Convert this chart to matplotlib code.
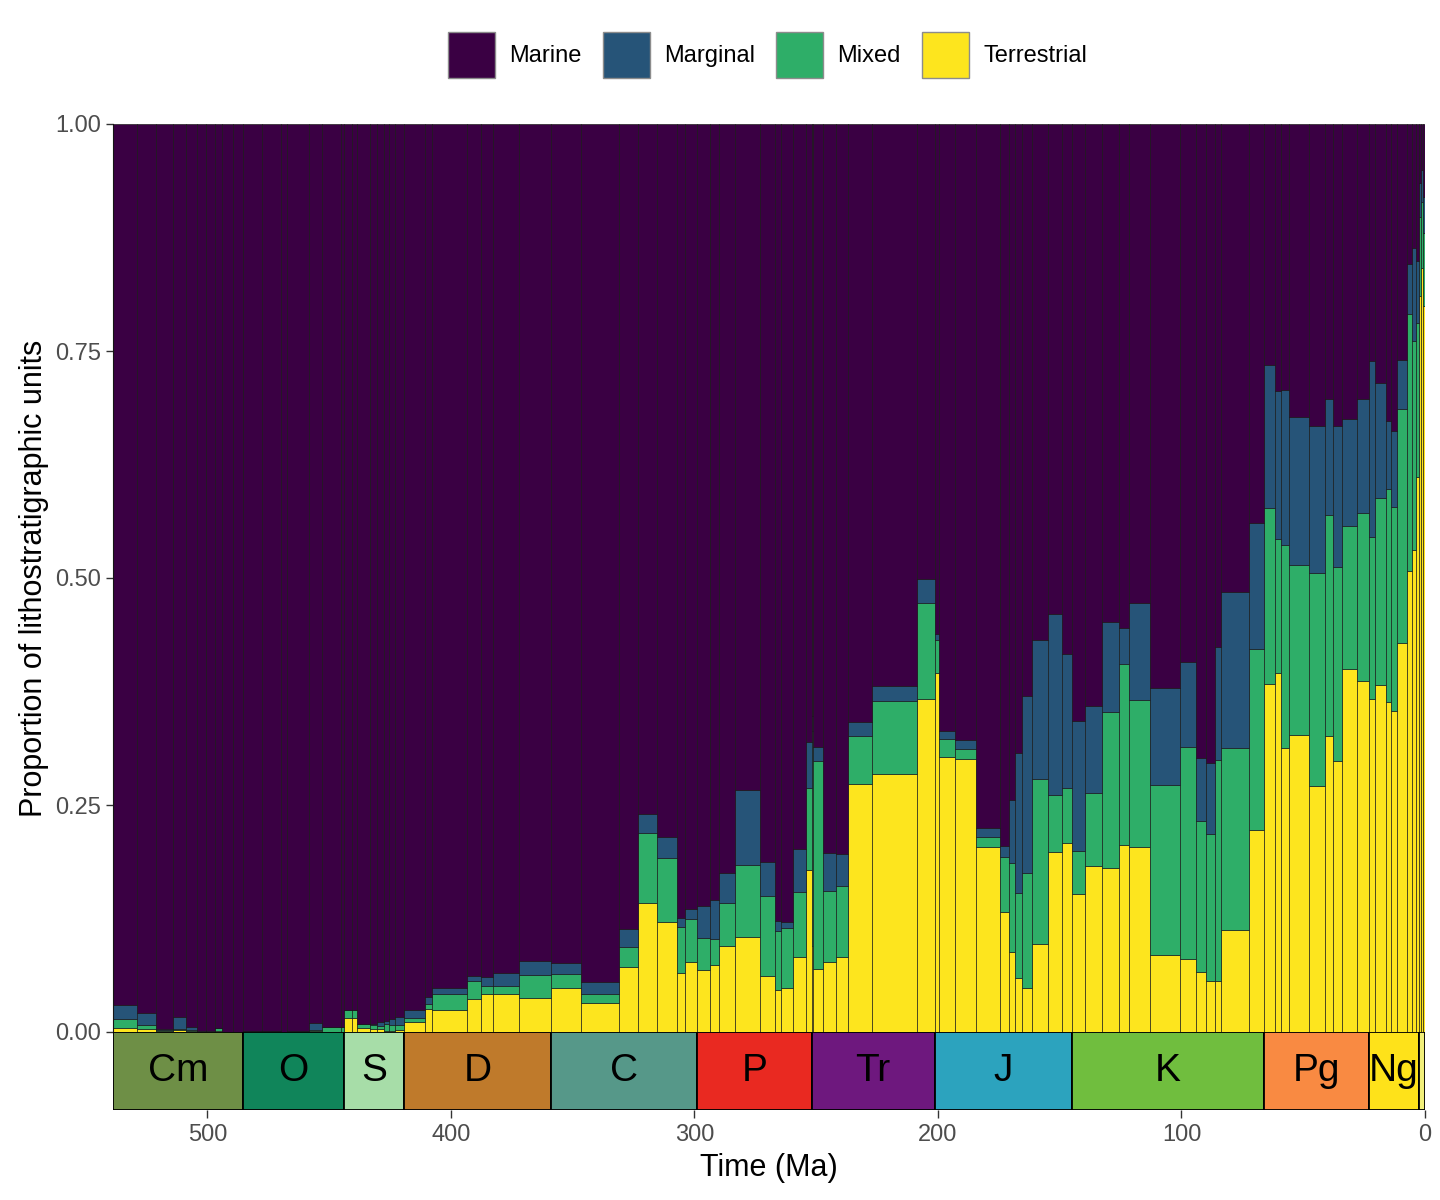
import matplotlib.pyplot as plt
from matplotlib.patches import Patch

plt.rcParams["font.family"] = ["Liberation Sans", "DejaVu Sans"]

# ICS stages (base age, Ma), oldest first
stage_names = [
    "Fortunian", "Stage 2", "Stage 3", "Stage 4", "Wuliuan", "Drumian", "Guzhangian",
    "Paibian", "Jiangshanian", "Stage 10",
    "Tremadocian", "Floian", "Dapingian", "Darriwilian", "Sandbian", "Katian", "Hirnantian",
    "Rhuddanian", "Aeronian", "Telychian", "Sheinwoodian", "Homerian", "Gorstian",
    "Ludfordian", "Pridoli",
    "Lochkovian", "Pragian", "Emsian", "Eifelian", "Givetian", "Frasnian", "Famennian",
    "Tournaisian", "Visean", "Serpukhovian", "Bashkirian", "Moscovian", "Kasimovian", "Gzhelian",
    "Asselian", "Sakmarian", "Artinskian", "Kungurian", "Roadian", "Wordian", "Capitanian",
    "Wuchiapingian", "Changhsingian",
    "Induan", "Olenekian", "Anisian", "Ladinian", "Carnian", "Norian", "Rhaetian",
    "Hettangian", "Sinemurian", "Pliensbachian", "Toarcian", "Aalenian", "Bajocian",
    "Bathonian", "Callovian", "Oxfordian", "Kimmeridgian", "Tithonian",
    "Berriasian", "Valanginian", "Hauterivian", "Barremian", "Aptian", "Albian",
    "Cenomanian", "Turonian", "Coniacian", "Santonian", "Campanian", "Maastrichtian",
    "Danian", "Selandian", "Thanetian", "Ypresian", "Lutetian", "Bartonian", "Priabonian",
    "Rupelian", "Chattian",
    "Aquitanian", "Burdigalian", "Langhian", "Serravallian", "Tortonian", "Messinian",
    "Zanclean", "Piacenzian",
    "Gelasian", "Calabrian", "Chibanian", "Upper Pleistocene", "Holocene",
]
stage_base = [
    538.8, 529, 521, 514, 509, 504.5, 500.5, 497, 494, 489.5,
    485.4, 477.7, 470, 467.3, 458.4, 453, 445.2,
    443.8, 440.8, 438.5, 433.4, 430.5, 427.4, 425.6, 423,
    419.2, 410.8, 407.6, 393.3, 387.7, 382.7, 372.2,
    358.9, 346.7, 330.9, 323.2, 315.2, 307, 303.7,
    298.9, 293.52, 290.1, 283.5, 273.01, 266.9, 264.28, 259.51, 254.14,
    251.902, 251.2, 247.2, 242, 237, 227, 208.5,
    201.4, 199.5, 192.9, 184.2, 174.7, 170.9, 168.2, 165.3, 161.5, 154.8, 149.2,
    145, 139.8, 132.6, 125.77, 121.4, 113, 100.5, 93.9, 89.8, 86.3, 83.6, 72.1,
    66, 61.6, 59.2, 56, 47.8, 41.2, 37.71, 33.9, 27.82,
    23.03, 20.44, 15.97, 13.82, 11.63, 7.246, 5.333, 3.6,
    2.58, 1.8, 0.774, 0.129, 0.0117,
]

# proportions of lithostratigraphic units per stage
terrestrial = [
    0.004, 0.003, 0.001, 0.002, 0.001, 0.0, 0.0, 0.001, 0.0, 0.0,
    0.001, 0.001, 0.0, 0.0, 0.001, 0.0, 0.0,
    0.0156, 0.0156, 0.0046, 0.003, 0.003, 0.001, 0.001, 0.002,
    0.0108, 0.0251, 0.0237, 0.0366, 0.042, 0.042, 0.0377,
    0.048, 0.0318, 0.0711, 0.142, 0.121, 0.065, 0.077,
    0.068, 0.074, 0.0942, 0.1045, 0.0619, 0.046, 0.048, 0.0825, 0.1787,
    0.095, 0.0696, 0.077, 0.0827, 0.273, 0.284, 0.3664,
    0.395, 0.3025, 0.301, 0.2033, 0.1324, 0.0878, 0.0597, 0.0483, 0.0971, 0.1985, 0.208,
    0.1515, 0.1831, 0.1802, 0.2063, 0.2037, 0.0844, 0.0802, 0.066, 0.0562, 0.0562, 0.1124, 0.222,
    0.383, 0.3953, 0.3131, 0.3268, 0.2707, 0.3258, 0.2983, 0.3998, 0.387,
    0.3663, 0.3817, 0.363, 0.3533, 0.4282, 0.5077, 0.5303, 0.6117,
    0.8106, 0.8417, 0.80, 0.61, 0.0,
]
mixed = [
    0.0105, 0.005, 0.001, 0.001, 0.001, 0.0, 0.0, 0.003, 0.0, 0.0,
    0.0, 0.0, 0.0, 0.001, 0.001, 0.005, 0.005,
    0.0081, 0.0081, 0.004, 0.005, 0.004, 0.0078, 0.0069, 0.006,
    0.0044, 0.0059, 0.0176, 0.0201, 0.0089, 0.009, 0.0246,
    0.0157, 0.0099, 0.0224, 0.0767, 0.071, 0.051, 0.048,
    0.0355, 0.0287, 0.0474, 0.0793, 0.0881, 0.065, 0.067, 0.0715, 0.09,
    0.237, 0.2284, 0.078, 0.078, 0.053, 0.0805, 0.1061,
    0.0368, 0.0198, 0.0107, 0.011, 0.0604, 0.0984, 0.0933, 0.1264, 0.1811, 0.0628, 0.0607,
    0.0478, 0.0805, 0.1726, 0.1994, 0.1623, 0.1879, 0.2341, 0.1664, 0.1621, 0.2431, 0.2002, 0.2002,
    0.194, 0.1472, 0.2234, 0.1876, 0.2353, 0.2437, 0.2137, 0.157, 0.185,
    0.1793, 0.2061, 0.2345, 0.2247, 0.2584, 0.2829, 0.2312, 0.1686,
    0.0872, 0.0723, 0.08, 0.19, 0.0,
]
marginal = [
    0.0155, 0.013, 0.001, 0.014, 0.004, 0.001, 0.001, 0.0, 0.0, 0.0,
    0.0, 0.0, 0.0, 0.0, 0.0077, 0.001, 0.001,
    0.0, 0.0, 0.0004, 0.0005, 0.0042, 0.0037, 0.0062, 0.0083,
    0.0092, 0.008, 0.007, 0.0048, 0.0095, 0.0135, 0.0154,
    0.0122, 0.0129, 0.0195, 0.0213, 0.0227, 0.01, 0.01,
    0.0355, 0.0423, 0.0338, 0.0831, 0.0375, 0.011, 0.0057, 0.047, 0.0503,
    0.0157, 0.0159, 0.0425, 0.0358, 0.015, 0.0162, 0.0265,
    0.0062, 0.0096, 0.0099, 0.0103, 0.012, 0.0688, 0.154, 0.1957, 0.1536, 0.1995, 0.1476,
    0.1432, 0.0954, 0.0988, 0.0397, 0.1065, 0.1062, 0.0935, 0.0689, 0.0782, 0.1247, 0.1716, 0.1379,
    0.1579, 0.1629, 0.1708, 0.1624, 0.161, 0.1275, 0.155, 0.1179, 0.125,
    0.1934, 0.1266, 0.0749, 0.084, 0.053, 0.0549, 0.1021, 0.0691,
    0.0369, 0.0355, 0.04, 0.10, 0.0,
]
marine = [1 - t - m - g for t, m, g in zip(terrestrial, mixed, marginal)]

period_names = ["Cm", "O", "S", "D", "C", "P", "Tr", "J", "K", "Pg", "Ng", ""]
period_base = [538.8, 485.4, 443.8, 419.2, 358.9, 298.9, 251.902, 201.4, 145, 66, 23.03, 2.58]
period_colors = ["#6E8F46", "#10855A", "#A7DDA8", "#BF7A2B", "#569889", "#E92921",
                 "#6E187E", "#2CA3BE", "#70BE3E", "#F98A42", "#FEE21A", "#F2F07A"]

env_names = ["Marine", "Marginal", "Mixed", "Terrestrial"]
env_colors = ["#3A0043", "#265478", "#2EAE68", "#FDE51E"]

W, H = 1440, 1200
fig = plt.figure(figsize=(14.4, 12), dpi=100)
ax = fig.add_axes([113 / W, 1 - 1032 / H, 1312 / W, (1032 - 124) / H])
ax_ts = fig.add_axes([113 / W, 1 - 1110 / H, 1312 / W, 78 / H], sharex=ax)

stage_top = stage_base[1:] + [0]
widths = [b - t for b, t in zip(stage_base, stage_top)]

# stacked from the bottom: terrestrial, mixed, marginal, marine
bottom = [0.0] * len(stage_base)
for vals, col in zip([terrestrial, mixed, marginal, marine], env_colors[::-1]):
    ax.bar(stage_top, vals, width=widths, bottom=bottom, align="edge",
           color=col, edgecolor="#151515", linewidth=0.45)
    bottom = [b + v for b, v in zip(bottom, vals)]

ax.set_xlim(538.8, 0)
ax.set_ylim(0, 1)
ax.set_yticks([0, 0.25, 0.5, 0.75, 1.0])
ax.set_yticklabels(["0.00", "0.25", "0.50", "0.75", "1.00"])
ax.tick_params(axis="y", labelsize=17, labelcolor="#4D4D4D", color="#333333",
               length=5, width=1)
ax.tick_params(axis="x", bottom=False, labelbottom=False)
for s in ["top", "right", "bottom"]:
    ax.spines[s].set_visible(False)
ax.spines["left"].set_color("#151515")
ax.set_ylabel("Proportion of lithostratigraphic units", fontsize=22)
ax.yaxis.set_label_coords(-0.049, 0.5)

# geological timescale
period_top = period_base[1:] + [0]
p_widths = [b - t for b, t in zip(period_base, period_top)]
ax_ts.bar(period_top, [1] * len(period_base), width=p_widths, bottom=0, align="edge",
          color=period_colors, edgecolor="black", linewidth=1.3)
for name, b, t in zip(period_names, period_base, period_top):
    ax_ts.text((b + t) / 2, 0.5, name, ha="center", va="center", fontsize=28, color="black")
ax_ts.set_ylim(0, 1)
ax_ts.set_yticks([])
for s in ax_ts.spines.values():
    s.set_visible(False)
ax_ts.set_xticks([500, 400, 300, 200, 100, 0])
ax_ts.set_xticklabels(["500", "400", "300", "200", "100", "0"])
ax_ts.tick_params(axis="x", labelsize=17, labelcolor="#4D4D4D", color="#333333",
                  length=6, width=1, pad=4)
fig.text(769 / W, 1 - 1168 / H, "Time (Ma)", ha="center", va="center", fontsize=22)

handles = [Patch(facecolor=c, edgecolor="#8C8C8C", linewidth=1, label=n)
           for n, c in zip(env_names, env_colors)]
fig.legend(handles=handles, loc="center", bbox_to_anchor=(0.533, 1 - 55 / H), ncol=4,
           frameon=False, fontsize=17, handlelength=2.0, handleheight=2.6,
           handletextpad=0.6, columnspacing=0.9)

fig.savefig("out.png", dpi=100, facecolor="white")
